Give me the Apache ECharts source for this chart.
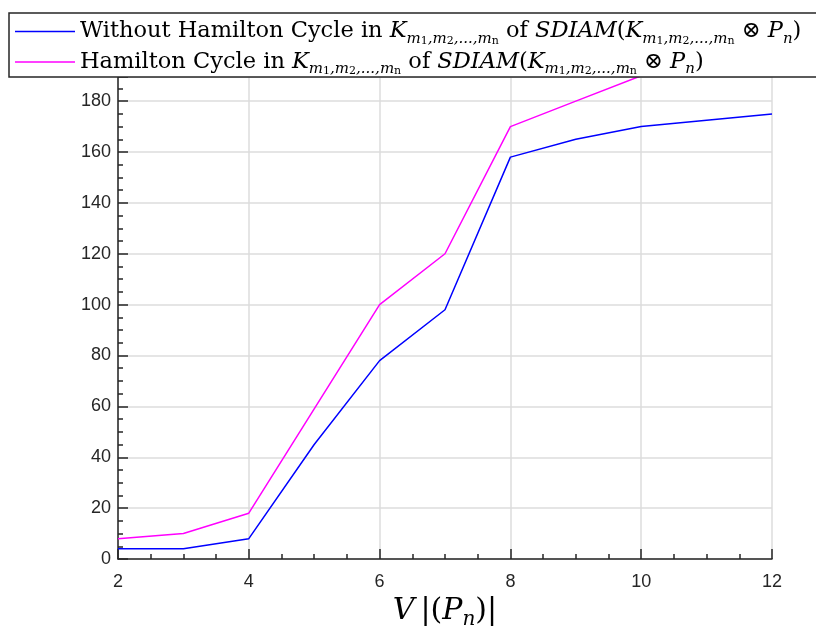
<!DOCTYPE html>
<html><head><meta charset="utf-8">
<script src="https://cdn.jsdelivr.net/npm/echarts@6/dist/echarts.min.js"></script>
<style>html,body{margin:0;padding:0;background:#fff}#c{width:816px;height:628px}</style>
</head><body><div id="c"></div>
<script>
const xBlue = [2, 3, 4, 5, 6, 7, 8, 9, 10, 12];
const yBlue = [4, 4, 8, 45, 78, 98, 158, 165, 170, 175];
const xMagenta = [2, 3, 4, 5, 6, 7, 8, 9, 10];
const yMagenta = [8, 10, 18, 59, 100, 120, 170, 180, 190];
const nameBlue = 'Without Hamilton Cycle';
const nameMagenta = 'Hamilton Cycle';
const xTicks = [2, 4, 6, 8, 10, 12];
const yTicks = [0, 20, 40, 60, 80, 100, 120, 140, 160, 180];

const K = '{i|K}{s|m}{ss|1}{s|,m}{ss|2}{s|,...,m}{ss|n}';
const tail = '{r| of }{i|SDIAM}{r|(}' + K + '{r| ⊗ }{i|P}{s|n}{r|)}';
const legendText = {};
legendText[nameBlue] = '{r|Without Hamilton Cycle in }' + K + tail;
legendText[nameMagenta] = '{r|Hamilton Cycle in }' + K + tail;

const serif = 'DejaVu Serif';
const rich = {
  r: {fontFamily: serif, fontSize: 22.5, color: '#000', lineHeight: 30},
  i: {fontFamily: serif, fontSize: 22.5, fontStyle: 'italic', color: '#000', lineHeight: 30},
  s: {fontFamily: serif, fontSize: 15, fontStyle: 'italic', color: '#000', verticalAlign: 'bottom', lineHeight: 11},
  ss: {fontFamily: serif, fontSize: 11, color: '#000', verticalAlign: 'bottom', lineHeight: 6}
};
const nameRich = {
  r: {fontFamily: serif, fontSize: 30, color: '#000', lineHeight: 38},
  i: {fontFamily: serif, fontSize: 30, fontStyle: 'italic', color: '#000', lineHeight: 38},
  s: {fontFamily: serif, fontSize: 20, fontStyle: 'italic', color: '#000', verticalAlign: 'bottom', lineHeight: 12}
};

const chart = echarts.init(document.getElementById('c'));
const axisCol = '#262626';
chart.setOption({
  animation: false,
  grid: {left: 118, right: 44, top: 77, bottom: 69, outerBoundsMode: 'none', containLabel: false},
  legend: {
    orient: 'vertical', left: 9, top: 13, itemWidth: 60, itemHeight: 1.6, itemGap: 4,
    icon: 'rect',
    padding: [7, 80, 0, 6],
    backgroundColor: '#fff', borderColor: '#262626', borderWidth: 1.5,
    data: [nameBlue, nameMagenta],
    formatter: n => legendText[n],
    textStyle: {rich: rich, padding: [0, 0, 0, 0]}
  },
  xAxis: {
    type: 'value', min: 2, max: 12, interval: 2,
    name: '{i|V}{r|\u2009|(}{i|P}{s|n}{r|)|}', nameLocation: 'middle', nameGap: 26,
    nameTextStyle: {rich: nameRich},
    axisLine: {lineStyle: {color: axisCol, width: 1.5}},
    axisTick: {inside: true, length: 10, lineStyle: {color: axisCol, width: 1.5}},
    minorTick: {show: true, splitNumber: 4, length: 5, lineStyle: {color: axisCol, width: 1.5}},
    axisLabel: {color: axisCol, fontSize: 18, fontFamily: 'Liberation Sans', margin: 14,
      formatter: v => xTicks.includes(v) ? String(v) : ''},
    splitLine: {show: true, lineStyle: {color: '#dcdcdc', width: 1.5}}
  },
  yAxis: {
    type: 'value', min: 0, max: 189.5, interval: 20,
    axisLine: {show: true, lineStyle: {color: axisCol, width: 1.5}},
    axisTick: {show: true, inside: true, length: 10, lineStyle: {color: axisCol, width: 1.5}},
    minorTick: {show: true, splitNumber: 4, length: 5, lineStyle: {color: axisCol, width: 1.5}},
    axisLabel: {color: axisCol, fontSize: 18, fontFamily: 'Liberation Sans', margin: 7, showMaxLabel: false,
      formatter: v => yTicks.includes(v) ? String(v) : ''},
    splitLine: {show: true, lineStyle: {color: '#dcdcdc', width: 1.5}}
  },
  series: [
    {name: nameBlue, type: 'line', symbol: 'none', data: xBlue.map((x, i) => [x, yBlue[i]]),
      lineStyle: {color: '#0000ff', width: 1.5}, itemStyle: {color: '#0000ff'}},
    {name: nameMagenta, type: 'line', symbol: 'none', data: xMagenta.map((x, i) => [x, yMagenta[i]]),
      lineStyle: {color: '#ff00ff', width: 1.5}, itemStyle: {color: '#ff00ff'}}
  ]
});
</script></body></html>
